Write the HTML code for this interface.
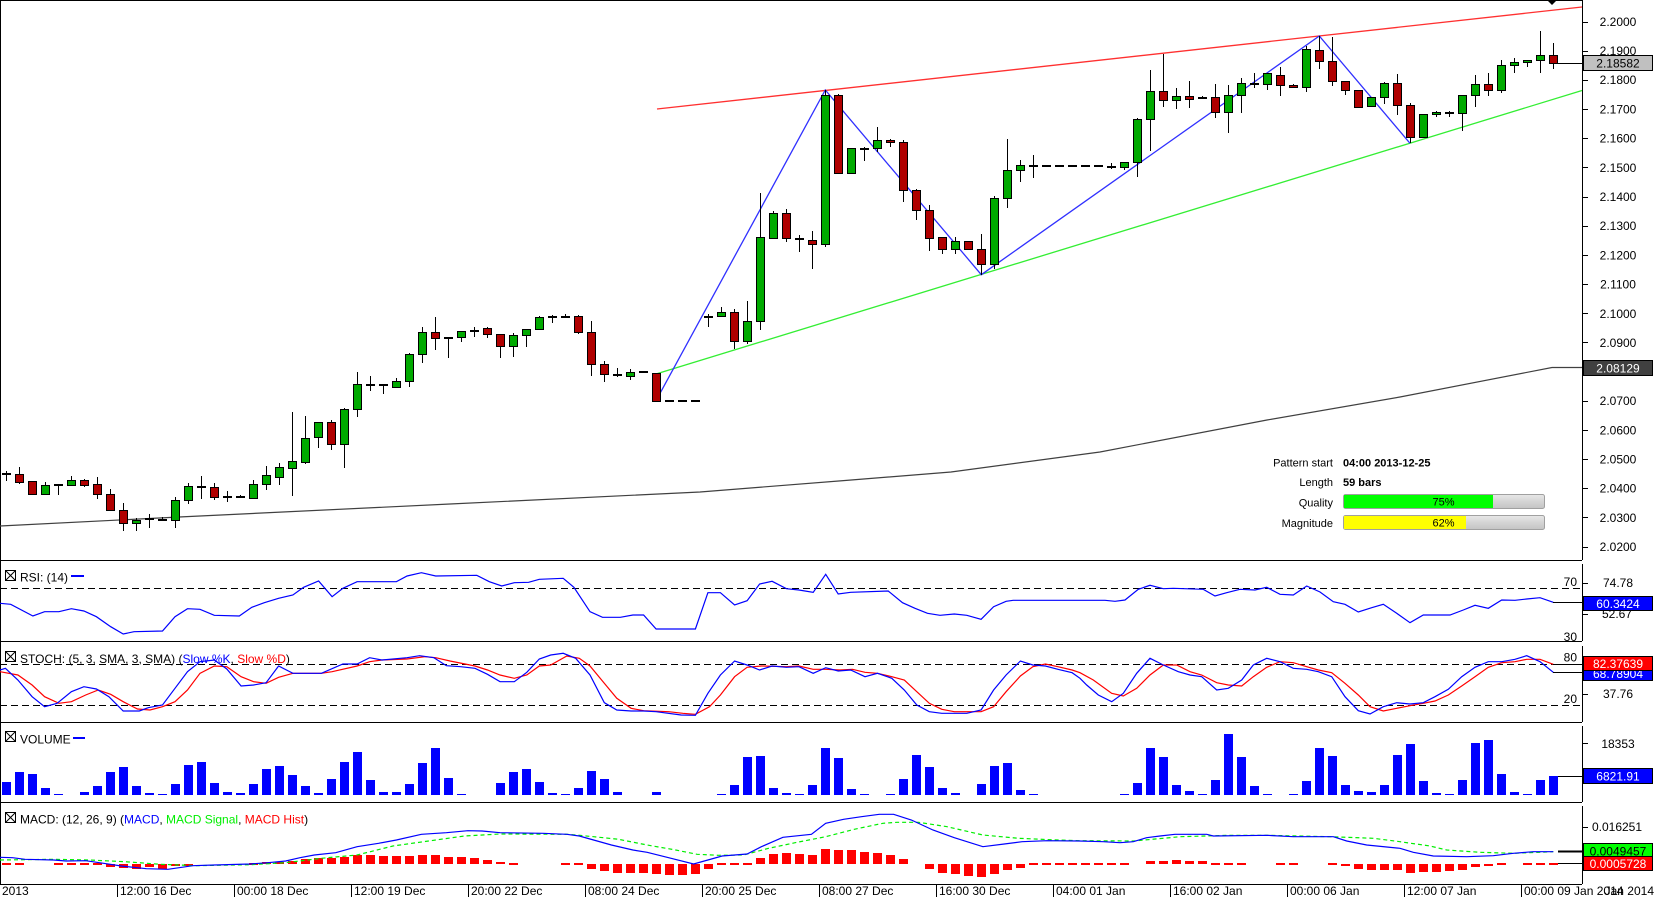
<!DOCTYPE html>
<html><head><meta charset="utf-8"><style>
html,body{margin:0;padding:0;background:#fff;}
svg{display:block;font-family:"Liberation Sans",Arial,sans-serif;}
.ax{font-size:12px;fill:#000;text-anchor:middle;}
.w{font-size:12px;fill:#fff;text-anchor:middle;}
.t{font-size:12px;fill:#000;}
.g{fill:#00aa00;stroke:#000;stroke-width:1;}
.r{fill:#b00000;stroke:#000;stroke-width:1;}
.v{fill:#0000ff;}
.h{fill:#ff0000;}
</style></head><body>
<svg width="1655" height="897" viewBox="0 0 1655 897" xmlns="http://www.w3.org/2000/svg">
<rect width="1655" height="897" fill="#fff"/>
<!-- frame -->
<g stroke="#000" stroke-width="1" fill="none" shape-rendering="crispEdges">
<path d="M0 0.5H1582M0.5 0V884M0 560.5H1582M0 641.5H1582M0 722.5H1582M0 802.5H1582M0 884.5H1582"/>
<path d="M1582.5 0V560M1582.5 564V641M1582.5 646V722M1582.5 726V802M1582.5 806V884"/>
<path d="M1582 22.5h6M1582 51.5h6M1582 80.5h6M1582 109.5h6M1582 138.5h6M1582 167.5h6M1582 197.5h6M1582 226.5h6M1582 255.5h6M1582 284.5h6M1582 313.5h6M1582 342.5h6M1582 372.5h6M1582 401.5h6M1582 430.5h6M1582 459.5h6M1582 488.5h6M1582 517.5h6M1582 547.5h6M1582 583.5h6M1582 614.5h6M1582 694.5h6M1582 743.5h6M1582 827.5h6"/>
<path d="M117.5 884V897M234.5 884V897M351.5 884V897M468.5 884V897M585.5 884V897M702.5 884V897M819.5 884V897M936.5 884V897M1053.5 884V897M1170.5 884V897M1287.5 884V897M1404.5 884V897M1521.5 884V897"/>
</g>
<polygon points="1547,0 1557,0 1552,5" fill="#000"/>
<!-- dashed indicator levels -->
<g stroke="#000" stroke-width="1" stroke-dasharray="7,4" shape-rendering="crispEdges">
<path d="M0 588.5H1582M0 664.5H1582M0 705.5H1582"/>
</g>
<!-- price axis labels -->
<g class="ax">
<text x="1618" y="26">2.2000</text><text x="1618" y="55">2.1900</text><text x="1618" y="84">2.1800</text><text x="1618" y="113.5">2.1700</text><text x="1618" y="142.5">2.1600</text><text x="1618" y="172">2.1500</text><text x="1618" y="201">2.1400</text><text x="1618" y="230">2.1300</text><text x="1618" y="259.5">2.1200</text><text x="1618" y="288.5">2.1100</text><text x="1618" y="318">2.1000</text><text x="1618" y="347">2.0900</text><text x="1618" y="376">2.0800</text><text x="1618" y="405">2.0700</text><text x="1618" y="434.5">2.0600</text><text x="1618" y="463.5">2.0500</text><text x="1618" y="492.5">2.0400</text><text x="1618" y="522">2.0300</text><text x="1618" y="551">2.0200</text>
<text x="1618" y="587">74.78</text><text x="1617" y="618">52.67</text><text x="1618" y="698">37.76</text><text x="1618" y="748">18353</text><text x="1617" y="831">0.016251</text>
</g>
<g class="t" text-anchor="end">
<text x="1577" y="586">70</text><text x="1577" y="641">30</text><text x="1577" y="661.5">80</text><text x="1577" y="703">20</text>
</g>
<!-- SMA line -->
<polyline fill="none" stroke="#404040" stroke-width="1.2" points="0,526 179,517 450,504 700,492 845,480.5 951,472 1100,452 1267,420 1400,397 1552,367.5 1582,367.5"/>
<!-- trend lines -->
<line x1="657" y1="109" x2="1582" y2="7" stroke="#ff3030" stroke-width="1.3"/>
<line x1="656" y1="374" x2="1582" y2="90.5" stroke="#33ee33" stroke-width="1.3"/>
<polyline fill="none" stroke="#3030ff" stroke-width="1.3" points="656,400.7 825.3,90 981.3,274.7 1319.3,36 1410,143.3"/>
<!-- wicks -->
<path fill="none" stroke="#000" stroke-width="1" d="M6.5 471V481M19.5 467V484M32.5 481V494M45.5 482V494M58.5 484V495M71.5 476V485M84.5 479V487M97.5 477V499M110.5 489V510M123.5 503V531M136.5 518V531M149.5 514V528M162.5 517V521M175.5 497V528M188.5 483V504M201.5 476V499M214.5 483V500M227.5 491V502M240.5 495V498M253.5 480V498M266.5 466V490M279.5 463V485M292.5 412V496M305.5 416V464M318.5 422V448M331.5 420V450M344.5 408V468M357.5 372V417M370.5 376V391M383.5 385V394M396.5 378V387M409.5 353V387M422.5 327V363M435.5 317V350M448.5 337V358M461.5 331V342M474.5 327V337M487.5 327V338M500.5 334V358M513.5 333V357M526.5 329V347M539.5 316V329M552.5 315V323M565.5 314V318M578.5 315V334M591.5 321V376M604.5 361V382M617.5 368V377M630.5 369V380M656.5 373V401M708.5 314V327M721.5 307V316M734.5 309V349M747.5 301V344M760.5 193V330M773.5 211V238M786.5 209V242M799.5 235V252M812.5 231V269M825.5 90V247M838.5 94V173M851.5 148V173M864.5 147V161M877.5 127V152M890.5 139V147M903.5 140V202M916.5 189V220M929.5 205V251M942.5 237V254M955.5 237V254M968.5 241V249M981.5 234V275M994.5 196V269M1007.5 139V208M1020.5 160V182M1033.5 155V178M1111.5 163V169M1124.5 162V170M1137.5 118V177M1150.5 70V151M1163.5 54V107M1176.5 88V109M1189.5 81V108M1202.5 96V99M1215.5 84V118M1228.5 85V133M1241.5 78V113M1254.5 73V88M1267.5 73V90M1280.5 67V96M1293.5 84V87M1306.5 46V92M1319.5 36V69M1332.5 37V86M1345.5 81V95M1358.5 90V107M1371.5 97V106M1384.5 82V104M1397.5 74V115M1410.5 103V143M1423.5 114V137M1436.5 111V117M1449.5 111V117M1462.5 95V131M1475.5 75V107M1488.5 73V96M1501.5 60V93M1514.5 58V73M1527.5 60V67M1540.5 31V73M1553.5 43V69"/>
<!-- doji / flat bars -->
<path fill="none" stroke="#000" stroke-width="2" d="M2 474h9M54 485h9M145 519h9M158 520h9M197 487h9M223 497h9M236 497h9M366 385h9M379 385h9M444 338h9M470 331h9M548 317h9M561 317h9M613 375h9M639 372h9M665 401h9M678 401h9M691 401h9M704 317h9M795 239h9M860 149h9M1029 166h9M1042 166h9M1055 166h9M1068 166h9M1081 166h9M1094 166h9M1107 167h9M1198 98h9M1250 84h9"/>
<!-- bodies -->
<g>
<rect class="r" x="15.5" y="474.5" width="8" height="8"/>
<rect class="r" x="28.5" y="481.5" width="8" height="13"/>
<rect class="g" x="41.5" y="485.5" width="8" height="9"/>
<rect class="g" x="67.5" y="480.5" width="8" height="5"/>
<rect class="r" x="80.5" y="480.5" width="8" height="5"/>
<rect class="r" x="93.5" y="484.5" width="8" height="10"/>
<rect class="r" x="106.5" y="494.5" width="8" height="16"/>
<rect class="r" x="119.5" y="510.5" width="8" height="13"/>
<rect class="g" x="132.5" y="520.5" width="8" height="3"/>
<rect class="g" x="171.5" y="500.5" width="8" height="20"/>
<rect class="g" x="184.5" y="486.5" width="8" height="14"/>
<rect class="r" x="210.5" y="487.5" width="8" height="10"/>
<rect class="g" x="249.5" y="484.5" width="8" height="14"/>
<rect class="g" x="262.5" y="475.5" width="8" height="9"/>
<rect class="g" x="275.5" y="467.5" width="8" height="10"/>
<rect class="g" x="288.5" y="461.5" width="8" height="7"/>
<rect class="g" x="301.5" y="438.5" width="8" height="24"/>
<rect class="g" x="314.5" y="422.5" width="8" height="15"/>
<rect class="r" x="327.5" y="422.5" width="8" height="22"/>
<rect class="g" x="340.5" y="409.5" width="8" height="35"/>
<rect class="g" x="353.5" y="384.5" width="8" height="25"/>
<rect class="g" x="392.5" y="381.5" width="8" height="6"/>
<rect class="g" x="405.5" y="354.5" width="8" height="27"/>
<rect class="g" x="418.5" y="332.5" width="8" height="22"/>
<rect class="r" x="431.5" y="332.5" width="8" height="6"/>
<rect class="g" x="457.5" y="331.5" width="8" height="6"/>
<rect class="r" x="483.5" y="328.5" width="8" height="6"/>
<rect class="r" x="496.5" y="334.5" width="8" height="12"/>
<rect class="g" x="509.5" y="335.5" width="8" height="11"/>
<rect class="g" x="522.5" y="329.5" width="8" height="6"/>
<rect class="g" x="535.5" y="317.5" width="8" height="12"/>
<rect class="r" x="574.5" y="316.5" width="8" height="16"/>
<rect class="r" x="587.5" y="332.5" width="8" height="32"/>
<rect class="r" x="600.5" y="364.5" width="8" height="10"/>
<rect class="g" x="626.5" y="372.5" width="8" height="4"/>
<rect class="r" x="652.5" y="373.5" width="8" height="28"/>
<rect class="g" x="717.5" y="312.5" width="8" height="4"/>
<rect class="r" x="730.5" y="312.5" width="8" height="29"/>
<rect class="g" x="743.5" y="321.5" width="8" height="20"/>
<rect class="g" x="756.5" y="237.5" width="8" height="84"/>
<rect class="g" x="769.5" y="213.5" width="8" height="25"/>
<rect class="r" x="782.5" y="213.5" width="8" height="25"/>
<rect class="r" x="808.5" y="240.5" width="8" height="4"/>
<rect class="g" x="821.5" y="95.5" width="8" height="149"/>
<rect class="r" x="834.5" y="95.5" width="8" height="78"/>
<rect class="g" x="847.5" y="148.5" width="8" height="25"/>
<rect class="g" x="873.5" y="140.5" width="8" height="8"/>
<rect class="r" x="886.5" y="140.5" width="8" height="2"/>
<rect class="r" x="899.5" y="142.5" width="8" height="48"/>
<rect class="r" x="912.5" y="190.5" width="8" height="20"/>
<rect class="r" x="925.5" y="210.5" width="8" height="28"/>
<rect class="r" x="938.5" y="237.5" width="8" height="12"/>
<rect class="g" x="951.5" y="241.5" width="8" height="8"/>
<rect class="r" x="964.5" y="241.5" width="8" height="8"/>
<rect class="r" x="977.5" y="249.5" width="8" height="15"/>
<rect class="g" x="990.5" y="198.5" width="8" height="66"/>
<rect class="g" x="1003.5" y="170.5" width="8" height="28"/>
<rect class="g" x="1016.5" y="165.5" width="8" height="5"/>
<rect class="g" x="1120.5" y="162.5" width="8" height="5"/>
<rect class="g" x="1133.5" y="119.5" width="8" height="43"/>
<rect class="g" x="1146.5" y="91.5" width="8" height="28"/>
<rect class="r" x="1159.5" y="91.5" width="8" height="9"/>
<rect class="g" x="1172.5" y="96.5" width="8" height="4"/>
<rect class="r" x="1185.5" y="96.5" width="8" height="3"/>
<rect class="r" x="1211.5" y="97.5" width="8" height="15"/>
<rect class="g" x="1224.5" y="95.5" width="8" height="17"/>
<rect class="g" x="1237.5" y="83.5" width="8" height="12"/>
<rect class="g" x="1263.5" y="73.5" width="8" height="11"/>
<rect class="r" x="1276.5" y="75.5" width="8" height="10"/>
<rect class="r" x="1289.5" y="85.5" width="8" height="2"/>
<rect class="g" x="1302.5" y="49.5" width="8" height="38"/>
<rect class="r" x="1315.5" y="50.5" width="8" height="11"/>
<rect class="r" x="1328.5" y="61.5" width="8" height="20"/>
<rect class="r" x="1341.5" y="81.5" width="8" height="9"/>
<rect class="r" x="1354.5" y="90.5" width="8" height="17"/>
<rect class="g" x="1367.5" y="97.5" width="8" height="9"/>
<rect class="g" x="1380.5" y="83.5" width="8" height="14"/>
<rect class="r" x="1393.5" y="83.5" width="8" height="22"/>
<rect class="r" x="1406.5" y="105.5" width="8" height="32"/>
<rect class="g" x="1419.5" y="114.5" width="8" height="23"/>
<rect class="g" x="1432.5" y="112.5" width="8" height="2"/>
<rect class="g" x="1445.5" y="112.5" width="8" height="1"/>
<rect class="g" x="1458.5" y="95.5" width="8" height="18"/>
<rect class="g" x="1471.5" y="84.5" width="8" height="11"/>
<rect class="r" x="1484.5" y="84.5" width="8" height="6"/>
<rect class="g" x="1497.5" y="65.5" width="8" height="25"/>
<rect class="g" x="1510.5" y="62.5" width="8" height="3"/>
<rect class="g" x="1523.5" y="60.5" width="8" height="2"/>
<rect class="g" x="1536.5" y="55.5" width="8" height="5"/>
<rect class="r" x="1549.5" y="55.5" width="8" height="8"/>
</g>
<line x1="1558" y1="63.5" x2="1582" y2="63.5" stroke="#000"/>
<!-- info box -->
<g font-size="11" fill="#000">
<g text-anchor="end"><text x="1333" y="466.5">Pattern start</text><text x="1333" y="486">Length</text><text x="1333" y="506.5">Quality</text><text x="1333" y="527">Magnitude</text></g>
<g font-weight="bold"><text x="1343" y="466.5">04:00 2013-12-25</text><text x="1343" y="486">59 bars</text></g>
</g>
<defs><linearGradient id="gb" x1="0" y1="0" x2="0" y2="1"><stop offset="0" stop-color="#e8e8e8"/><stop offset="0.5" stop-color="#d4d4d4"/><stop offset="1" stop-color="#c4c4c4"/></linearGradient></defs>
<rect x="1343.5" y="494.5" width="201" height="14" rx="2" fill="url(#gb)" stroke="#a0a0a0"/>
<rect x="1344" y="495" width="149" height="13" fill="#00ff00"/>
<rect x="1343.5" y="515.5" width="201" height="14" rx="2" fill="url(#gb)" stroke="#a0a0a0"/>
<rect x="1344" y="516" width="122" height="13" fill="#ffff00"/>
<g font-size="11" text-anchor="middle" fill="#000"><text x="1443.5" y="505.5">75%</text><text x="1443.5" y="526.5">62%</text></g>

<!-- RSI -->
<polyline fill="none" stroke="#0000ff" stroke-width="1.2" points="0,603.3 10.7,604.3 32.9,616 44.6,611.7 58.9,611.7 71.4,608.7 83.9,611 96.4,616.7 110.7,626.7 123.2,634 134,631.7 162.5,631 175,616.7 187.5,608.7 200,609.3 214.3,615.3 239.3,616 251.8,607.3 264.3,602.7 278.6,598.3 292.9,595 303.6,587.3 318.6,581 332.1,596.7 342.9,588.3 357.1,581.7 396.4,581.7 407.1,576 421.4,572.7 435.7,576 476.8,575.3 489.3,581.7 501.8,586 514.3,582.7 528.6,582.3 539.3,579.3 563.2,578.3 573.9,587.3 590,611.7 602.5,617.3 620.4,617.3 632.9,615 643.6,615 656.1,629 695.4,629 707.9,592.7 720.4,592.7 734.6,605 747.1,600.7 759.6,584 772.1,581.3 786.4,588.7 798.9,590 813.2,592.3 825.7,574.3 838.2,594 850.7,592.3 888.2,591 902.5,602.7 915,608.3 927.5,613.3 940,615.3 954.3,614 966.8,615.3 981.1,619.3 993.6,606.7 1006.1,601.3 1013.2,600.3 1105,600.3 1115,601.3 1125,600 1138.3,589.3 1150,585.3 1163.3,588.7 1173.3,588.3 1203.3,589.3 1215,596 1226.7,592.7 1240,589.3 1255,590 1266.7,587.3 1280,594.3 1293.3,595 1306.7,586 1320,592 1333.3,601.7 1345,604.3 1358.3,612 1371.7,607.7 1383.3,604.3 1396.7,613.3 1410,622.7 1423.3,615 1450,615 1463.3,610 1475,605.3 1488.3,608.3 1501.7,600 1515,600.3 1526.7,599 1540,597.7 1553.3,602.3"/>
<line x1="1553" y1="602.5" x2="1582" y2="602.5" stroke="#000"/>
<!-- STOCH -->
<polyline fill="none" stroke="#ff0000" stroke-width="1.2" points="0,671.7 17.9,675 32.1,685 44.6,696.7 58.9,703.3 71.4,701.7 85.7,695 98.2,690 110.7,694.3 123.2,701.7 137.5,709 150,710 162.5,706.7 175,701.7 187.5,690 200,673.3 214.3,666 226.8,666.7 241.1,676.7 253.6,681.7 266.1,683.3 278.6,677.3 292.9,673.3 321.4,673.3 332.1,671.7 357.1,666 369.6,661.7 382.1,660 407.1,659 425,656.7 435.7,657.7 450,661 475,666 487.5,670 500,675 514.3,678.3 526.8,675 539.3,666 550.7,665 566.8,656 579.3,658.3 590,666 604.3,683.3 616.8,698.3 631.1,708.3 643.6,710.7 668.6,711.7 682.9,713.3 695.4,714.3 709.6,706.7 720.4,695 734.6,676.7 747.1,667.3 761.4,666 786.4,666.7 798.9,666 813.2,669.3 825.7,669.3 840,670 852.5,669.3 865,672.3 877.5,673.3 891.8,676.7 904.3,680 916.8,691.7 929.3,703.3 941.8,709.3 954.3,711.7 981.1,711.7 993.6,706.7 1006.1,691.7 1020.4,676 1032.9,666.7 1045.4,664 1057.9,666.7 1072.1,670 1080,672.7 1093.3,680 1111.7,693.3 1123.3,696 1136.7,688.3 1150,675 1163.3,665 1176.7,665 1190,671.7 1201.7,675 1216.7,682.7 1228.3,685 1241.7,686 1253.3,676.7 1266.7,667.3 1280,661.7 1293.3,662.7 1306.7,666.7 1318.3,670 1331.7,672.7 1345,683.3 1358.3,695 1370,706.7 1383.3,711 1396.7,708.3 1410,705.7 1423.3,703.3 1435,701 1448.3,695 1461.7,686 1475,676.7 1488.3,667.3 1501.7,662.7 1515,661.7 1526.7,659.3 1540,659.3 1553.3,664.3"/>
<polyline fill="none" stroke="#0000ff" stroke-width="1.2" points="0,670 5.4,668.3 17.9,680 32.1,696.7 44.6,706.7 57.1,703.3 71.4,691.7 83.9,686.7 96.4,689 108.9,696.7 123.2,711 139.3,711 148.2,707.7 162.5,705 175,688.3 187.5,671.7 200,661.7 214.3,660 226.8,669 241.1,686 253.6,685 266.1,682.7 278.6,666 292.9,673.3 321.4,673.3 342.9,664 357.1,664 369.6,657.7 382.1,660 407.1,657.7 419.6,655.7 433.9,657.7 446.4,665.7 460.7,666.7 475,668.3 487.5,674.3 500,681.7 514.3,681.7 526.8,672.3 539.3,659 550.7,655 563.2,653.3 575.7,658.3 590,675 604.3,702.7 616.8,710 631.1,711 643.6,711 656.1,711.7 681.1,715 695.4,715.3 707.9,693.3 720.4,675 734.6,661 747.1,665 759.6,670 772.1,666 786.4,667.3 798.9,666.7 813.2,673.3 825.7,667.7 838.2,671 850.7,670 865,676.7 877.5,673.3 891.8,678.3 904.3,690 916.8,705 929.3,711.7 941.8,713.3 966.8,713.3 981.1,710 993.6,690 1006.1,675 1020.4,661 1032.9,665 1045.4,666 1057.9,669.3 1072.1,672.7 1080,678.3 1086.7,685 1098.3,695 1111.7,701.7 1123.3,693.3 1136.7,673.3 1150,658.3 1163.3,665 1178.3,671.7 1190,675 1201.7,676.7 1216.7,690 1228.3,688.3 1241.7,680 1253.3,665 1266.7,658.3 1280,661.7 1293.3,668.3 1306.7,669.3 1318.3,671.7 1331.7,676.7 1345,696.7 1358.3,710.7 1370,714 1383.3,706.7 1396.7,702.7 1410,704 1423.3,702.7 1435,696.7 1448.3,689.3 1461.7,676.7 1475,667.3 1488.3,661.7 1501.7,661.7 1515,659.3 1526.7,655.7 1540,661.7 1553.3,672.3"/>
<path d="M1553 672.5H1582M1553 664.5H1582" stroke="#000"/>
<!-- VOLUME -->
<g class="v">
<rect x="2" y="782" width="9" height="13"/><rect x="15" y="772" width="9" height="23"/><rect x="28" y="774" width="9" height="21"/><rect x="41" y="788" width="9" height="7"/><rect x="54" y="794" width="9" height="1"/><rect x="80" y="792" width="9" height="3"/><rect x="93" y="786" width="9" height="9"/><rect x="106" y="772" width="9" height="23"/><rect x="119" y="767" width="9" height="28"/><rect x="132" y="786" width="9" height="9"/><rect x="145" y="793" width="9" height="2"/><rect x="158" y="794" width="9" height="1"/><rect x="171" y="784" width="9" height="11"/><rect x="184" y="765" width="9" height="30"/><rect x="197" y="762" width="9" height="33"/><rect x="210" y="783" width="9" height="12"/><rect x="223" y="792" width="9" height="3"/><rect x="236" y="793" width="9" height="2"/><rect x="249" y="784" width="9" height="11"/><rect x="262" y="769" width="9" height="26"/><rect x="275" y="766" width="9" height="29"/><rect x="288" y="775" width="9" height="20"/><rect x="301" y="786" width="9" height="9"/><rect x="314" y="793" width="9" height="2"/><rect x="327" y="779" width="9" height="16"/><rect x="340" y="762" width="9" height="33"/><rect x="353" y="752" width="9" height="43"/><rect x="366" y="780" width="9" height="15"/><rect x="379" y="792" width="9" height="3"/><rect x="392" y="792" width="9" height="3"/><rect x="405" y="784" width="9" height="11"/><rect x="418" y="763" width="9" height="32"/><rect x="431" y="748" width="9" height="47"/><rect x="444" y="778" width="9" height="17"/><rect x="457" y="794" width="9" height="1"/>
<rect x="496" y="783" width="9" height="12"/><rect x="509" y="772" width="9" height="23"/><rect x="522" y="769" width="9" height="26"/><rect x="535" y="782" width="9" height="13"/><rect x="548" y="793" width="9" height="2"/><rect x="561" y="794" width="9" height="1"/><rect x="574" y="788" width="9" height="7"/><rect x="587" y="771" width="9" height="24"/><rect x="600" y="779" width="9" height="16"/><rect x="613" y="792" width="9" height="3"/><rect x="652" y="792" width="9" height="3"/>
<rect x="717" y="794" width="9" height="1"/><rect x="730" y="785" width="9" height="10"/><rect x="743" y="757" width="9" height="38"/><rect x="756" y="756" width="9" height="39"/><rect x="769" y="788" width="9" height="7"/><rect x="782" y="793" width="9" height="2"/><rect x="795" y="794" width="9" height="1"/><rect x="808" y="785" width="9" height="10"/><rect x="821" y="748" width="9" height="47"/><rect x="834" y="758" width="9" height="37"/><rect x="847" y="789" width="9" height="6"/><rect x="860" y="794" width="9" height="1"/><rect x="886" y="794" width="9" height="1"/><rect x="899" y="779" width="9" height="16"/><rect x="912" y="755" width="9" height="40"/><rect x="925" y="767" width="9" height="28"/><rect x="938" y="788" width="9" height="7"/><rect x="951" y="793" width="9" height="2"/><rect x="977" y="784" width="9" height="11"/><rect x="990" y="766" width="9" height="29"/><rect x="1003" y="763" width="9" height="32"/><rect x="1016" y="790" width="9" height="5"/><rect x="1029" y="794" width="9" height="1"/>
<rect x="1120" y="794" width="9" height="1"/><rect x="1133" y="783" width="9" height="12"/><rect x="1146" y="748" width="9" height="47"/><rect x="1159" y="757" width="9" height="38"/><rect x="1172" y="785" width="9" height="10"/><rect x="1185" y="791" width="9" height="4"/><rect x="1198" y="794" width="9" height="1"/><rect x="1211" y="780" width="9" height="15"/><rect x="1224" y="734" width="9" height="61"/><rect x="1237" y="757" width="9" height="38"/><rect x="1250" y="786" width="9" height="9"/><rect x="1263" y="794" width="9" height="1"/><rect x="1289" y="794" width="9" height="1"/><rect x="1302" y="781" width="9" height="14"/><rect x="1315" y="748" width="9" height="47"/><rect x="1328" y="756" width="9" height="39"/><rect x="1341" y="785" width="9" height="10"/><rect x="1354" y="791" width="9" height="4"/><rect x="1367" y="792" width="9" height="3"/><rect x="1380" y="785" width="9" height="10"/><rect x="1393" y="755" width="9" height="40"/><rect x="1406" y="744" width="9" height="51"/><rect x="1419" y="781" width="9" height="14"/><rect x="1432" y="793" width="9" height="2"/><rect x="1445" y="794" width="9" height="1"/><rect x="1458" y="780" width="9" height="15"/><rect x="1471" y="743" width="9" height="52"/><rect x="1484" y="740" width="9" height="55"/><rect x="1497" y="774" width="9" height="21"/><rect x="1510" y="792" width="9" height="3"/><rect x="1523" y="794" width="9" height="1"/><rect x="1536" y="780" width="9" height="15"/><rect x="1549" y="776" width="9" height="19"/>
</g>
<line x1="1558" y1="776.5" x2="1582" y2="776.5" stroke="#000"/>
<!-- MACD hist -->
<g class="h">
<rect x="2" y="863" width="9" height="2"/><rect x="15" y="863" width="9" height="2"/><rect x="54" y="863" width="9" height="2"/><rect x="67" y="863" width="9" height="2"/><rect x="80" y="863" width="9" height="2"/><rect x="93" y="863" width="9" height="2"/>
<rect x="106" y="864" width="9" height="3"/><rect x="119" y="864" width="9" height="4"/><rect x="132" y="864" width="9" height="5"/><rect x="145" y="864" width="9" height="3"/><rect x="158" y="864" width="9" height="5"/><rect x="171" y="864" width="9" height="2"/><rect x="184" y="864" width="9" height="2"/>
<rect x="249" y="863" width="9" height="2"/><rect x="262" y="862" width="9" height="2"/><rect x="275" y="862" width="9" height="2"/><rect x="288" y="861" width="9" height="3"/><rect x="301" y="859" width="9" height="5"/><rect x="314" y="858" width="9" height="6"/><rect x="327" y="858" width="9" height="6"/><rect x="340" y="857" width="9" height="7"/><rect x="353" y="855" width="9" height="9"/><rect x="366" y="855" width="9" height="9"/><rect x="379" y="856" width="9" height="8"/><rect x="392" y="856" width="9" height="8"/><rect x="405" y="856" width="9" height="8"/><rect x="418" y="855" width="9" height="9"/><rect x="431" y="855" width="9" height="9"/><rect x="444" y="857" width="9" height="7"/><rect x="457" y="857" width="9" height="7"/><rect x="470" y="858" width="9" height="6"/><rect x="483" y="860" width="9" height="4"/><rect x="496" y="862" width="9" height="2"/><rect x="509" y="863" width="9" height="2"/>
<rect x="561" y="863" width="9" height="2"/><rect x="574" y="863" width="9" height="2"/><rect x="587" y="864" width="9" height="5"/><rect x="600" y="864" width="9" height="7"/><rect x="613" y="864" width="9" height="9"/><rect x="626" y="864" width="9" height="9"/><rect x="639" y="864" width="9" height="9"/><rect x="652" y="864" width="9" height="10"/><rect x="665" y="864" width="9" height="11"/><rect x="678" y="864" width="9" height="11"/><rect x="691" y="864" width="9" height="10"/><rect x="704" y="864" width="9" height="5"/><rect x="717" y="863" width="9" height="2"/><rect x="730" y="863" width="9" height="2"/><rect x="743" y="863" width="9" height="2"/>
<rect x="756" y="858" width="9" height="6"/><rect x="769" y="854" width="9" height="10"/><rect x="782" y="853" width="9" height="11"/><rect x="795" y="854" width="9" height="10"/><rect x="808" y="855" width="9" height="9"/><rect x="821" y="849" width="9" height="15"/><rect x="834" y="850" width="9" height="14"/><rect x="847" y="850" width="9" height="14"/><rect x="860" y="852" width="9" height="12"/><rect x="873" y="853" width="9" height="11"/><rect x="886" y="855" width="9" height="9"/><rect x="899" y="859" width="9" height="5"/>
<rect x="925" y="864" width="9" height="5"/><rect x="938" y="864" width="9" height="9"/><rect x="951" y="864" width="9" height="10"/><rect x="964" y="864" width="9" height="12"/><rect x="977" y="864" width="9" height="13"/><rect x="990" y="864" width="9" height="10"/><rect x="1003" y="864" width="9" height="6"/><rect x="1016" y="864" width="9" height="4"/>
<rect x="1029" y="863" width="9" height="2"/><rect x="1042" y="863" width="9" height="2"/><rect x="1055" y="863" width="9" height="2"/><rect x="1068" y="863" width="9" height="2"/><rect x="1081" y="863" width="9" height="2"/><rect x="1094" y="863" width="9" height="2"/><rect x="1107" y="863" width="9" height="2"/><rect x="1120" y="863" width="9" height="2"/>
<rect x="1146" y="861" width="9" height="3"/><rect x="1159" y="861" width="9" height="3"/><rect x="1172" y="860" width="9" height="4"/><rect x="1185" y="861" width="9" height="3"/><rect x="1198" y="861" width="9" height="3"/><rect x="1211" y="863" width="9" height="2"/><rect x="1224" y="863" width="9" height="2"/><rect x="1237" y="863" width="9" height="2"/>
<rect x="1276" y="863" width="9" height="2"/><rect x="1289" y="863" width="9" height="2"/>
<rect x="1328" y="863" width="9" height="2"/><rect x="1341" y="864" width="9" height="2"/><rect x="1354" y="864" width="9" height="5"/><rect x="1367" y="864" width="9" height="6"/><rect x="1380" y="864" width="9" height="6"/><rect x="1393" y="864" width="9" height="6"/><rect x="1406" y="864" width="9" height="9"/><rect x="1419" y="864" width="9" height="8"/><rect x="1432" y="864" width="9" height="8"/><rect x="1445" y="864" width="9" height="7"/><rect x="1458" y="864" width="9" height="6"/><rect x="1471" y="864" width="9" height="3"/><rect x="1484" y="864" width="9" height="2"/><rect x="1497" y="863" width="9" height="2"/>
<rect x="1523" y="863" width="9" height="2"/><rect x="1536" y="863" width="9" height="2"/><rect x="1549" y="863" width="9" height="2"/>
</g>
<polyline fill="none" stroke="#00ee00" stroke-width="1.2" stroke-dasharray="4,3" points="0,860 53.6,859.3 89.3,860 125,861.7 160.7,864.3 196.4,865.7 250,864.7 285.7,862.7 321.4,858.3 357.1,855 392.9,846 428.6,841 464.3,836 500,834 568.6,834.3 593.6,836.7 618.6,839.3 647.1,845 675.7,850 697.1,854.3 718.6,855.3 743.6,855 768.6,848.3 797.1,842.3 825.7,836.7 854.3,829.3 882.9,823.3 897.1,822.3 918.6,822.3 947.1,826.7 982.9,835 1018.6,838.3 1057.9,840 1080,840.7 1133.3,841 1163.3,838.3 1180,836.7 1230,835.3 1266.7,835.3 1330,836.7 1373.3,838.3 1400,841.7 1430,846 1446.7,850 1480,852.3 1513.3,853.3 1553.3,851.7"/>
<polyline fill="none" stroke="#0000ff" stroke-width="1.2" points="0,857.3 12.5,857.7 25,859.3 53.6,860 66,861 85.7,860.7 103.6,863.3 121.4,866 146.4,868.7 167.9,869.3 192.9,865.7 214.3,865 250,864 267.9,862.7 285.7,861 300,857.7 314.3,855 335.7,852.7 357.1,846.7 378.6,843.3 396.4,840 421.4,834.3 446.4,832.7 467.9,830.7 482.1,831 500,832.7 542.9,833.3 566.8,834.3 579.3,836 593.6,840 611.4,845 632.9,850 647.1,852.3 668.6,857.7 693.6,864 707.9,860 722.1,856 747.1,854 761.4,846.7 782.9,837.3 811.4,834.3 825.7,823.3 843.6,819.3 861.4,816.7 879.3,814.3 893.6,814.3 911.4,820 932.9,830 954.3,837.7 982.9,846.7 1004.3,844 1022.1,841.7 1047.1,840.7 1079.3,841 1103.3,841.7 1120,842.7 1133.3,841.7 1146.7,837.7 1160,836 1175,834.3 1206.7,834.3 1213.3,836 1266.7,835.3 1293.3,836.7 1333.3,836.7 1346.7,841 1366.7,845 1400,848.3 1413.3,852.3 1433.3,856 1466.7,856.7 1493.3,855.7 1513.3,853.3 1533.3,851.7 1553.3,851.7"/>
<path d="M1558 851.5H1582" stroke="#000" stroke-width="2"/>
<path d="M1558 863.5H1582" stroke="#000"/>

<!-- value boxes -->
<g stroke="#000" stroke-width="1">
<rect x="1583.5" y="55.5" width="69" height="15" fill="#c0c0c0"/>
<rect x="1583.5" y="360.5" width="69" height="15" fill="#404040"/>
<rect x="1583.5" y="596.5" width="69" height="14" fill="#0000ff"/>
<rect x="1583.5" y="666.5" width="69" height="14" fill="#0000ff"/>
</g>
<text class="ax" x="1618" y="67.5">2.18582</text>
<text class="w" x="1618" y="372.5">2.08129</text>
<text class="w" x="1618" y="608">60.3424</text>
<text class="w" x="1618" y="678">68.78904</text>
<rect x="1583.5" y="656.5" width="69" height="14" fill="#ff0000" stroke="#000"/>
<text class="w" x="1618" y="668">82.37639</text>
<rect x="1583.5" y="768.5" width="69" height="15" fill="#0000ff" stroke="#000"/>
<text class="w" x="1618" y="780.5">6821.91</text>
<rect x="1583.5" y="843.5" width="69" height="14" fill="#00ff00" stroke="#000"/>
<text class="ax" x="1618" y="855.5">0.0049457</text>
<rect x="1583.5" y="856.5" width="69" height="14" fill="#ff0000" stroke="#000"/>
<text class="w" x="1618" y="868">0.0005728</text>

<!-- panel titles -->
<g stroke="#000" stroke-width="1" fill="none">
<rect x="5.5" y="570.5" width="10" height="10"/><path d="M5.5 570.5L15.5 580.5M15.5 570.5L5.5 580.5"/>
<rect x="5.5" y="651.5" width="10" height="10"/><path d="M5.5 651.5L15.5 661.5M15.5 651.5L5.5 661.5"/>
<rect x="5.5" y="731.5" width="10" height="10"/><path d="M5.5 731.5L15.5 741.5M15.5 731.5L5.5 741.5"/>
<rect x="5.5" y="812.5" width="10" height="10"/><path d="M5.5 812.5L15.5 822.5M15.5 812.5L5.5 822.5"/>
</g>
<g class="t">
<text x="20" y="581.5">RSI: (14)</text>
<text x="20" y="663">STOCH: (5, 3, SMA, 3, SMA) (<tspan fill="#0000ff">Slow %K</tspan>, <tspan fill="#ff0000">Slow %D</tspan>)</text>
<text x="20" y="743.5">VOLUME</text>
<text x="20" y="823.5">MACD: (12, 26, 9) (<tspan fill="#0000ff">MACD</tspan>, <tspan fill="#00ee00">MACD Signal</tspan>, <tspan fill="#ff0000">MACD Hist</tspan>)</text>
</g>
<path d="M71 576H84M73 738H85" stroke="#0000ff" stroke-width="2"/>

<!-- date axis -->
<g class="t">
<text x="2" y="895">2013</text>
<text x="120" y="895">12:00 16 Dec</text>
<text x="237" y="895">00:00 18 Dec</text>
<text x="354" y="895">12:00 19 Dec</text>
<text x="471" y="895">20:00 22 Dec</text>
<text x="588" y="895">08:00 24 Dec</text>
<text x="705" y="895">20:00 25 Dec</text>
<text x="822" y="895">08:00 27 Dec</text>
<text x="939" y="895">16:00 30 Dec</text>
<text x="1056" y="895">04:00 01 Jan</text>
<text x="1173" y="895">16:00 02 Jan</text>
<text x="1290" y="895">00:00 06 Jan</text>
<text x="1407" y="895">12:00 07 Jan</text>
<text x="1524" y="895">00:00 09 Jan 2014</text>
<text x="1654" y="895" text-anchor="end">Jan 2014</text>
</g>
</svg>
</body></html>
